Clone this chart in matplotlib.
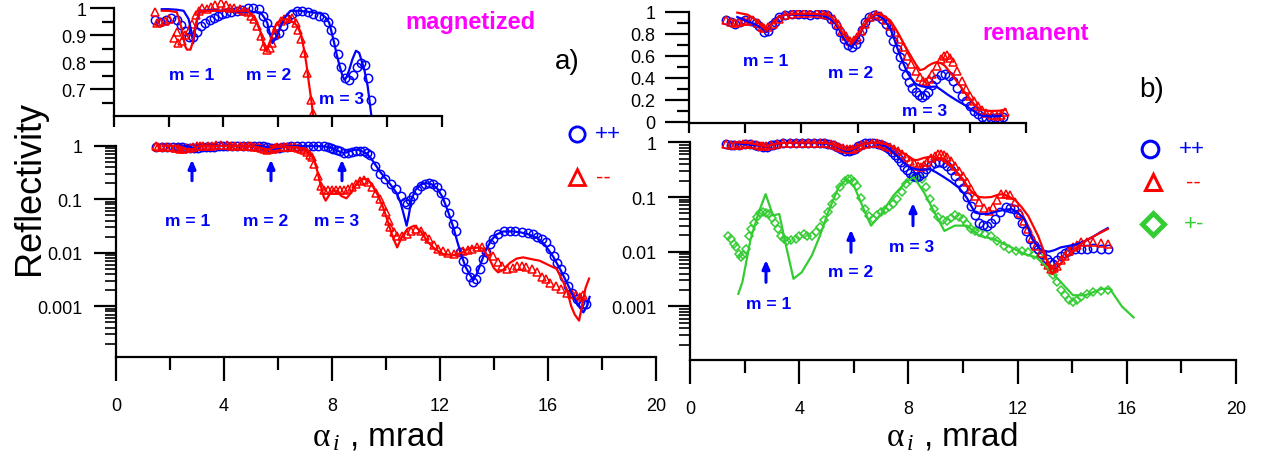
import numpy as np
import matplotlib
matplotlib.use("Agg")
import matplotlib.pyplot as plt
from matplotlib.ticker import FixedLocator, NullFormatter, LogLocator

plt.rcParams['font.family'] = ['Liberation Sans', 'DejaVu Sans']
plt.rcParams['mathtext.fontset'] = 'custom'
plt.rcParams['mathtext.rm'] = 'Liberation Serif'
plt.rcParams['mathtext.it'] = 'Liberation Serif:italic'

BLUE = '#0000ff'
RED = '#ff0000'
GREEN = '#33cc33'
MAGENTA = '#ff00ff'

# ---------------- panel a) magnetized ----------------
a_pp_x = [1.5, 1.7, 1.9, 2.1, 2.3, 2.45, 2.6, 2.75, 2.9, 3.05, 3.2, 3.35, 3.5, 3.65, 3.8, 3.95,
          4.1, 4.3, 4.5, 4.7, 4.9, 5.1, 5.3, 5.45, 5.6, 5.75, 5.9, 6.05, 6.2, 6.35, 6.5, 6.7,
          6.9, 7.1, 7.3, 7.5, 7.7, 7.85, 7.95, 8.05, 8.2, 8.3, 8.45, 8.6, 8.75, 8.9, 9.05, 9.2,
          9.3, 9.4, 9.58, 9.8, 9.97, 10.2, 10.37, 10.55, 10.7, 10.8, 10.9, 11.0, 11.15, 11.3,
          11.45, 11.6, 11.75, 11.9, 12.05, 12.2, 12.35, 12.5, 12.6, 12.75, 12.85, 12.97, 13.1,
          13.23, 13.35, 13.49, 13.6, 13.7, 13.85, 13.97, 14.15, 14.37, 14.6, 14.8, 15.03, 15.25,
          15.45, 15.6, 15.8, 15.94, 16.1, 16.22, 16.35, 16.48, 16.6, 16.75, 16.9, 17.08, 17.2,
          17.3, 17.4]
a_pp_y = [0.956, 0.949, 0.957, 0.963, 0.955, 0.938, 0.915, 0.893, 0.892, 0.91, 0.932, 0.946,
          0.955, 0.965, 0.972, 0.978, 0.982, 0.985, 0.988, 0.994, 0.999, 1.0, 0.998, 0.97,
          0.946, 0.92, 0.90, 0.908, 0.932, 0.96, 0.978, 0.988, 0.99, 0.984, 0.978, 0.972, 0.968,
          0.95, 0.92, 0.875, 0.83, 0.78, 0.74, 0.733, 0.752, 0.78, 0.795, 0.79, 0.74, 0.66,
          0.42, 0.30, 0.24, 0.19, 0.155, 0.115, 0.09, 0.081, 0.095, 0.117, 0.15, 0.18, 0.195,
          0.2, 0.19, 0.17, 0.13, 0.09, 0.055, 0.035, 0.025, 0.0102, 0.007, 0.005, 0.0035,
          0.0028, 0.0033, 0.005, 0.0075, 0.0102, 0.0145, 0.018, 0.022, 0.025, 0.025, 0.025,
          0.024, 0.023, 0.022, 0.02, 0.018, 0.0156, 0.012, 0.0088, 0.0065, 0.005, 0.0035,
          0.0024, 0.0018, 0.00135, 0.0012, 0.0011, 0.0011]

a_mm_x = [1.5, 1.57, 1.7, 1.85, 2.0, 2.2, 2.3, 2.36, 2.5, 2.6, 2.73, 2.86, 3.0, 3.1, 3.22,
          3.4, 3.55, 3.7, 3.9, 4.1, 4.25, 4.4, 4.6, 4.75, 4.9, 5.0, 5.12, 5.25, 5.37, 5.49,
          5.61, 5.7, 5.8, 5.9, 5.98, 6.1, 6.22, 6.35, 6.5, 6.65, 6.75, 6.84, 6.96, 7.08, 7.2,
          7.27, 7.35, 7.48, 7.6, 7.7, 7.85, 8.0, 8.15, 8.3, 8.45, 8.6, 8.75, 8.9, 9.05, 9.19,
          9.35, 9.5, 9.65, 9.8, 9.9, 10.0, 10.1, 10.17, 10.3, 10.43, 10.6, 10.78, 10.95, 11.12,
          11.3, 11.45, 11.59, 11.8, 11.95, 12.12, 12.3, 12.51, 12.7, 12.85, 13.04, 13.2, 13.37,
          13.57, 13.75, 13.97, 14.15, 14.3, 14.5, 14.7, 14.85, 15.03, 15.2, 15.43, 15.6, 15.8,
          15.93, 16.1, 16.3, 16.48, 16.7, 16.88, 17.05, 17.2, 17.3]
a_mm_y = [0.984, 0.944, 0.948, 0.952, 0.958, 0.89, 0.91, 0.872, 0.878, 0.9, 0.915, 0.94,
          0.975, 0.99, 1.0, 0.998, 1.005, 1.01, 1.02, 1.01, 1.0, 1.0, 0.995, 0.99, 0.984, 0.97,
          0.959, 0.934, 0.896, 0.859, 0.846, 0.852, 0.872, 0.905, 0.934, 0.952, 0.959, 0.965,
          0.963, 0.946, 0.92, 0.884, 0.834, 0.759, 0.66, 0.61, 0.45, 0.27, 0.18, 0.152, 0.148,
          0.15, 0.152, 0.15, 0.148, 0.155, 0.17, 0.195, 0.215, 0.23, 0.21, 0.17, 0.13, 0.1,
          0.075, 0.057, 0.04, 0.03, 0.024, 0.021, 0.021, 0.022, 0.026, 0.028, 0.025, 0.021,
          0.018, 0.014, 0.012, 0.011, 0.01, 0.0095, 0.0105, 0.011, 0.0114, 0.012, 0.0126,
          0.0126, 0.011, 0.0088, 0.0068, 0.0057, 0.005, 0.0053, 0.0056, 0.0057, 0.0055, 0.005,
          0.0043, 0.0036, 0.0032, 0.0027, 0.0024, 0.0021, 0.0018, 0.0017, 0.0016, 0.0015, 0.0016]

a_pp_fit_x = [1.75, 2.0, 2.3, 2.55, 2.73, 2.82, 2.9, 2.97, 3.05, 3.16, 3.5, 4.0, 4.5, 5.0, 5.37,
              5.5, 5.61, 5.72, 5.8, 5.9, 5.98, 6.1, 6.22, 6.35, 6.47, 6.8, 7.2, 7.57, 7.75, 7.88,
              7.97, 8.06, 8.15, 8.25, 8.35, 8.43, 8.52, 8.61, 8.73, 8.86, 8.98, 9.08, 9.17, 9.29,
              9.45, 9.6, 9.8, 10.0, 10.2, 10.4, 10.55, 10.65, 10.77, 10.85, 10.95, 11.1, 11.3,
              11.5, 11.7, 11.9, 12.1, 12.3, 12.5, 12.65, 12.8, 12.95, 13.1, 13.23, 13.35, 13.5,
              13.7, 13.9, 14.1, 14.35, 14.7, 15.0, 15.3, 15.6, 15.9, 16.2, 16.5, 16.75, 16.95,
              17.15, 17.32, 17.45, 17.55]
a_pp_fit_y = [0.996, 0.996, 0.994, 0.99, 0.96, 0.92, 0.87, 0.92, 0.96, 0.99, 0.992, 0.99, 0.988,
              0.986, 0.984, 0.965, 0.946, 0.9, 0.87, 0.885, 0.9, 0.93, 0.96, 0.978, 0.99, 0.99,
              0.985, 0.98, 0.965, 0.946, 0.91, 0.872, 0.83, 0.79, 0.755, 0.734, 0.745, 0.77, 0.81,
              0.842, 0.834, 0.80, 0.77, 0.71, 0.58, 0.45, 0.32, 0.24, 0.18, 0.13, 0.085, 0.055,
              0.032, 0.05, 0.1, 0.15, 0.19, 0.2, 0.19, 0.16, 0.11, 0.06, 0.03, 0.016, 0.009,
              0.0055, 0.004, 0.0032, 0.0038, 0.006, 0.011, 0.017, 0.022, 0.025, 0.025, 0.024,
              0.022, 0.019, 0.014, 0.0085, 0.0045, 0.0025, 0.0015, 0.001, 0.00077, 0.001, 0.0015]

a_mm_fit_x = [1.75, 2.0, 2.3, 2.49, 2.6, 2.67, 2.8, 2.9, 3.04, 3.16, 3.6, 4.2, 4.88, 5.12, 5.25,
              5.37, 5.47, 5.55, 5.65, 5.74, 5.85, 5.98, 6.15, 6.35, 6.55, 6.72, 6.85, 6.96, 7.05,
              7.14, 7.25, 7.33, 7.45, 7.6, 7.7, 7.77, 7.9, 8.05, 8.2, 8.35, 8.54, 8.7, 8.9, 9.1,
              9.25, 9.45, 9.7, 9.9, 10.1, 10.25, 10.42, 10.6, 10.8, 11.05, 11.3, 11.55, 11.8,
              12.1, 12.51, 12.8, 13.1, 13.4, 13.6, 13.85, 14.0, 14.16, 14.35, 14.6, 14.85, 15.09,
              15.4, 15.7, 16.0, 16.33, 16.55, 16.7, 16.87, 17.0, 17.16, 17.3, 17.4, 17.53]
a_mm_fit_y = [0.99, 0.99, 0.985, 0.92, 0.86, 0.846, 0.846, 0.88, 0.959, 0.99, 0.99, 0.99, 0.99,
              0.97, 0.94, 0.91, 0.87, 0.846, 0.86, 0.884, 0.92, 0.946, 0.957, 0.959, 0.948,
              0.934, 0.9, 0.846, 0.79, 0.72, 0.64, 0.56, 0.35, 0.17, 0.11, 0.094, 0.12, 0.15,
              0.14, 0.115, 0.104, 0.13, 0.19, 0.235, 0.24, 0.2, 0.12, 0.07, 0.035, 0.02, 0.0126,
              0.02, 0.028, 0.032, 0.025, 0.016, 0.012, 0.0095, 0.009, 0.01, 0.012, 0.0125, 0.012,
              0.0075, 0.0052, 0.0043, 0.0048, 0.0065, 0.0078, 0.0082, 0.0076, 0.0071, 0.006,
              0.005, 0.003, 0.0021, 0.001, 0.0007, 0.00054, 0.0012, 0.0022, 0.0033]

# ---------------- panel b) remanent ----------------
b_pp_x = [1.33, 1.5, 1.63, 1.8, 2.0, 2.2, 2.37, 2.5, 2.67, 2.83, 2.95, 3.05, 3.2, 3.42, 3.65,
          3.87, 4.1, 4.32, 4.55, 4.77, 4.92, 5.07, 5.22, 5.37, 5.52, 5.67, 5.82, 5.93, 6.04,
          6.15, 6.27, 6.42, 6.57, 6.72, 6.87, 7.02, 7.17, 7.28, 7.39, 7.5, 7.62, 7.73, 7.84,
          7.95, 8.07, 8.18, 8.29, 8.4, 8.52, 8.66, 8.81, 8.96, 9.11, 9.26, 9.41, 9.56, 9.72,
          9.86, 10.01, 10.15, 10.29, 10.44, 10.59, 10.74, 10.89, 11.04, 11.19, 11.37, 11.56,
          11.71, 11.86, 12.01, 12.16, 12.31, 12.46, 12.61, 12.76, 12.91, 13.06, 13.17, 13.28,
          13.43, 13.58, 13.73, 13.88, 14.1, 14.33, 14.55, 14.78, 15.05, 15.3]
b_pp_y = [0.923, 0.905, 0.893, 0.91, 0.923, 0.915, 0.90, 0.87, 0.817, 0.83, 0.88, 0.909, 0.95,
          0.975, 0.98, 0.984, 0.98, 0.975, 0.98, 0.984, 0.97, 0.939, 0.88, 0.817, 0.755, 0.695,
          0.68, 0.71, 0.756, 0.84, 0.909, 0.955, 0.975, 0.965, 0.939, 0.89, 0.817, 0.74, 0.664,
          0.59, 0.512, 0.43, 0.36, 0.31, 0.27, 0.245, 0.229, 0.24, 0.27, 0.33, 0.39, 0.425,
          0.436, 0.415, 0.375, 0.31, 0.238, 0.19, 0.146, 0.1, 0.069, 0.047, 0.034, 0.031,
          0.030, 0.034, 0.04, 0.053, 0.065, 0.064, 0.06, 0.048, 0.034, 0.024, 0.017, 0.0135,
          0.0112, 0.009, 0.0074, 0.0065, 0.0059, 0.007, 0.0085, 0.0096, 0.0104, 0.011, 0.0112,
          0.0114, 0.0115, 0.0113, 0.0112]

b_mm_x = [1.33, 1.5, 1.65, 1.79, 1.95, 2.1, 2.28, 2.45, 2.6, 2.67, 2.8, 2.98, 3.2, 3.42, 3.65,
          3.87, 4.1, 4.32, 4.55, 4.77, 4.95, 5.15, 5.3, 5.45, 5.6, 5.75, 5.86, 5.97, 6.12, 6.27,
          6.45, 6.65, 6.85, 7.02, 7.17, 7.32, 7.47, 7.62, 7.77, 7.92, 8.07, 8.22, 8.35, 8.45,
          8.56, 8.67, 8.82, 8.97, 9.08, 9.19, 9.3, 9.41, 9.56, 9.72, 9.86, 10.01, 10.15, 10.29,
          10.44, 10.59, 10.78, 10.97, 11.1, 11.25, 11.41, 11.56, 11.71, 11.9, 12.09, 12.24,
          12.39, 12.54, 12.69, 12.84, 12.99, 13.1, 13.21, 13.32, 13.43, 13.58, 13.73, 13.88,
          14.03, 14.18, 14.33, 14.55, 14.78, 15.05, 15.3]
b_mm_y = [0.93, 0.91, 0.90, 0.905, 0.915, 0.92, 0.923, 0.9, 0.86, 0.85, 0.86, 0.893, 0.94, 0.969,
          0.98, 0.99, 0.99, 0.99, 0.99, 0.984, 0.97, 0.939, 0.89, 0.83, 0.78, 0.74, 0.745, 0.77,
          0.83, 0.893, 0.95, 0.984, 0.96, 0.923, 0.87, 0.817, 0.75, 0.68, 0.6, 0.53, 0.46, 0.41,
          0.375, 0.36, 0.39, 0.436, 0.51, 0.573, 0.6, 0.61, 0.585, 0.543, 0.46, 0.375, 0.3,
          0.238, 0.185, 0.14, 0.105, 0.08, 0.063, 0.056, 0.065, 0.09, 0.113, 0.112, 0.107, 0.08,
          0.052, 0.036, 0.026, 0.018, 0.0129, 0.0094, 0.0068, 0.0057, 0.0048, 0.005, 0.0055,
          0.007, 0.0085, 0.0103, 0.012, 0.0135, 0.0148, 0.015, 0.0148, 0.0142, 0.0138]

b_pm_x = [1.4, 1.5, 1.6, 1.7, 1.8, 1.85, 1.95, 2.05, 2.15, 2.25, 2.35, 2.45, 2.55, 2.67, 2.78,
          2.9, 3.0, 3.12, 3.22, 3.34, 3.45, 3.57, 3.7, 3.87, 4.0, 4.16, 4.3, 4.46, 4.6, 4.76, 4.9,
          5.06, 5.2, 5.36, 5.5, 5.66, 5.78, 5.88, 6.0, 6.1, 6.25, 6.41, 6.55, 6.71, 6.85, 7.0,
          7.15, 7.3, 7.45, 7.6, 7.75, 7.9, 8.05, 8.2, 8.35, 8.5, 8.65, 8.8, 8.95, 9.1, 9.25,
          9.4, 9.55, 9.7, 9.85, 10.0, 10.15, 10.29, 10.45, 10.59, 10.8, 11.04, 11.25, 11.49,
          11.7, 11.94, 12.15, 12.39, 12.6, 12.83, 13.0, 13.14, 13.28, 13.43, 13.58, 13.73,
          13.88, 14.03, 14.18, 14.33, 14.55, 14.78, 15.05, 15.3]
b_pm_y = [0.0196, 0.017, 0.014, 0.012, 0.009, 0.0079, 0.0088, 0.011, 0.0196, 0.026, 0.034,
          0.043, 0.05, 0.054, 0.052, 0.049, 0.042, 0.034, 0.026, 0.0196, 0.017, 0.016, 0.0165,
          0.017, 0.019, 0.021, 0.0195, 0.019, 0.023, 0.028, 0.038, 0.053, 0.075, 0.106, 0.15,
          0.20, 0.215, 0.213, 0.185, 0.16, 0.095, 0.06, 0.045, 0.04, 0.046, 0.053, 0.058, 0.065,
          0.075, 0.092, 0.125, 0.17, 0.205, 0.23, 0.225, 0.213, 0.15, 0.092, 0.06, 0.043, 0.038,
          0.037, 0.042, 0.046, 0.044, 0.04, 0.032, 0.026, 0.024, 0.0227, 0.021, 0.0196, 0.016,
          0.0129, 0.011, 0.0104, 0.0101, 0.0098, 0.0088, 0.0079, 0.0065, 0.0052, 0.0038, 0.0028,
          0.002, 0.0016, 0.0013, 0.0012, 0.0013, 0.0015, 0.0017, 0.0018, 0.0019, 0.002]

b_pp_fit_x = [1.72, 1.95, 2.24, 2.45, 2.61, 2.76, 2.88, 2.98, 3.15, 3.42, 4.0, 4.5, 4.77, 5.0,
              5.22, 5.37, 5.52, 5.65, 5.78, 5.9, 6.04, 6.2, 6.42, 6.57, 6.72, 6.95, 7.17, 7.32,
              7.47, 7.62, 7.77, 7.92, 8.07, 8.25, 8.45, 8.63, 8.81, 9.03, 9.26, 9.56, 9.86, 10.0,
              10.15, 10.29, 10.44, 10.65, 10.89, 11.1, 11.34, 11.56, 11.79, 12.0, 12.24, 12.4,
              12.54, 12.69, 12.83, 12.98, 13.14, 13.35, 13.58, 13.88, 14.18, 14.5, 14.78, 15.05,
              15.3]
b_pp_fit_y = [0.954, 0.93, 0.90, 0.875, 0.85, 0.817, 0.86, 0.909, 0.95, 0.975, 0.975, 0.972,
              0.969, 0.94, 0.893, 0.83, 0.756, 0.705, 0.68, 0.715, 0.77, 0.86, 0.939, 0.965,
              0.975, 0.93, 0.85, 0.745, 0.634, 0.54, 0.45, 0.39, 0.345, 0.325, 0.315, 0.318,
              0.32, 0.28, 0.238, 0.19, 0.146, 0.12, 0.095, 0.07, 0.052, 0.049, 0.049, 0.052,
              0.056, 0.059, 0.06, 0.052, 0.04, 0.026, 0.017, 0.0135, 0.0112, 0.0104, 0.01,
              0.0107, 0.012, 0.0128, 0.0138, 0.016, 0.019, 0.023, 0.027]

b_mm_fit_x = [1.72, 1.9, 2.09, 2.25, 2.39, 2.55, 2.76, 2.9, 3.05, 3.2, 3.42, 3.9, 4.32, 4.65,
              4.92, 5.08, 5.22, 5.37, 5.52, 5.65, 5.78, 5.9, 6.04, 6.2, 6.42, 6.57, 6.72, 6.95,
              7.17, 7.4, 7.62, 7.77, 7.92, 8.07, 8.22, 8.37, 8.52, 8.66, 8.81, 8.96, 9.11, 9.33,
              9.56, 9.78, 10.01, 10.15, 10.29, 10.44, 10.59, 10.8, 11.04, 11.28, 11.49, 11.7,
              11.94, 12.15, 12.39, 12.58, 12.76, 12.91, 13.06, 13.16, 13.26, 13.38, 13.51, 13.7,
              13.88, 14.1, 14.33, 14.55, 14.78, 15.05, 15.3]
b_mm_fit_y = [0.994, 0.985, 0.975, 0.95, 0.923, 0.88, 0.83, 0.87, 0.923, 0.955, 0.975, 0.984,
              0.984, 0.98, 0.975, 0.95, 0.909, 0.85, 0.787, 0.745, 0.726, 0.745, 0.787, 0.86,
              0.939, 0.97, 0.984, 0.96, 0.923, 0.83, 0.726, 0.655, 0.59, 0.525, 0.47, 0.48, 0.51,
              0.53, 0.543, 0.535, 0.51, 0.44, 0.36, 0.28, 0.208, 0.16, 0.13, 0.11, 0.1, 0.098,
              0.1, 0.11, 0.113, 0.1, 0.085, 0.065, 0.045, 0.029, 0.019, 0.012, 0.0074, 0.0052,
              0.0039, 0.0045, 0.0055, 0.0072, 0.0089, 0.011, 0.014, 0.0165, 0.019, 0.0225, 0.026]

b_pm_fit_x = [1.77, 1.92, 2.22, 2.52, 2.77, 3.04, 3.27, 3.49, 3.79, 4.09, 4.46, 4.76, 5.06,
              5.44, 5.73, 6.03, 6.41, 6.63, 7.0, 7.45, 7.9, 8.2, 8.57, 8.95, 9.32, 9.7, 10.14,
              10.59, 11.12, 11.64, 12.24, 12.69, 13.14, 13.58, 14.03, 14.48, 15.08, 15.38, 15.82,
              16.25]
b_pm_fit_y = [0.0017, 0.0028, 0.017, 0.053, 0.113, 0.046, 0.049, 0.0148, 0.0032, 0.0042,
              0.0085, 0.0196, 0.053, 0.15, 0.213, 0.15, 0.053, 0.030, 0.049, 0.106, 0.186, 0.23,
              0.122, 0.053, 0.024, 0.030, 0.030, 0.0196, 0.017, 0.0129, 0.0091, 0.0079, 0.0048,
              0.0028, 0.0016, 0.0016, 0.0021, 0.0021, 0.001, 0.00063]

b_inset_xmax = 11.3  # the inset of panel b) shows data only up to here

x_ticks = [0, 4, 8, 12, 16, 20]
x_minor = [2, 6, 10, 14, 18]
log_ticks = [1, 0.1, 0.01, 0.001]
log_labels = ['1', '0.1', '0.01', '0.001']

W, H = 1271, 460
fig = plt.figure(figsize=(W / 100, H / 100), dpi=100)


def px_axes(left, top, right, bottom):
    return fig.add_axes([left / W, 1 - bottom / H, (right - left) / W, (bottom - top) / H])


def style_axes(ax):
    for s in ['top', 'right']:
        ax.spines[s].set_visible(False)
    for s in ['left', 'bottom']:
        ax.spines[s].set_linewidth(1.6)
    ax.set_facecolor('none')


def main_axes(left, top, right, bottom, ymin):
    ax = px_axes(left, top, right, bottom)
    style_axes(ax)
    ax.set_xlim(0, 20)
    ax.set_yscale('log')
    ax.set_ylim(ymin, 1)
    ax.xaxis.set_major_locator(FixedLocator(x_ticks))
    ax.xaxis.set_minor_locator(FixedLocator(x_minor))
    ax.set_xticklabels([str(t) for t in x_ticks])
    ax.yaxis.set_major_locator(FixedLocator(log_ticks))
    ax.set_yticklabels(log_labels)
    ax.yaxis.set_minor_locator(LogLocator(base=10, subs=np.arange(2, 10)))
    ax.yaxis.set_minor_formatter(NullFormatter())
    ax.tick_params(axis='x', which='major', length=17, width=1.6, pad=12, labelsize=13)
    ax.tick_params(axis='x', which='minor', length=9, width=1.6)
    ax.tick_params(axis='y', which='major', length=16, width=1.6, pad=8, labelsize=13)
    ax.tick_params(axis='y', which='minor', length=8, width=1.2)
    return ax


def marks(ax, x, y, marker, color, ms, **kw):
    ax.plot(x, y, linestyle='none', marker=marker, mfc='none', mec=color, ms=ms, mew=1.1, **kw)


def fit(ax, x, y, color, **kw):
    ax.plot(x, y, '-', color=color, lw=1.6, **kw)


# ---- a) main
axa = main_axes(116, 146.7, 655.7, 358, 1.13e-4)
marks(axa, a_pp_x, a_pp_y, 'o', BLUE, 6, clip_on=False)
marks(axa, a_mm_x, a_mm_y, '^', RED, 6, clip_on=False)
fit(axa, a_pp_fit_x, a_pp_fit_y, BLUE, clip_on=False)
fit(axa, a_mm_fit_x, a_mm_fit_y, RED, clip_on=False)

# ---- a) inset (linear)
axai = px_axes(114, 1, 441.7, 117)
style_axes(axai)
axai.set_xlim(0, 12)
axai.set_ylim(0.6, 1.03)
axai.spines['left'].set_bounds(0.6, 1.0)
axai.xaxis.set_major_locator(FixedLocator(range(0, 13, 2)))
axai.set_xticklabels([])
axai.yaxis.set_major_locator(FixedLocator([0.7, 0.8, 0.9, 1.0]))
axai.set_yticklabels(['0.7', '0.8', '0.9', '1'])
axai.yaxis.set_minor_locator(FixedLocator([0.65, 0.75, 0.85, 0.95]))
axai.tick_params(axis='x', which='major', length=8, width=1.6)
axai.tick_params(axis='y', which='major', length=17, width=1.6, pad=3, labelsize=13)
axai.tick_params(axis='y', which='minor', length=8.5, width=1.6)
marks(axai, a_pp_x, a_pp_y, 'o', BLUE, 6)
marks(axai, a_mm_x, a_mm_y, '^', RED, 6)
fit(axai, a_pp_fit_x, a_pp_fit_y, BLUE)
fit(axai, a_mm_fit_x, a_mm_fit_y, RED)

# ---- b) main
axb = main_axes(690, 143.3, 1236, 361, 1.05e-4)
marks(axb, b_pm_x, b_pm_y, 'D', GREEN, 4.2, clip_on=False)
marks(axb, b_pp_x, b_pp_y, 'o', BLUE, 6, clip_on=False)
marks(axb, b_mm_x, b_mm_y, '^', RED, 6, clip_on=False)
fit(axb, b_pm_fit_x, b_pm_fit_y, GREEN, clip_on=False)
fit(axb, b_pp_fit_x, b_pp_fit_y, BLUE, clip_on=False)
fit(axb, b_mm_fit_x, b_mm_fit_y, RED, clip_on=False)

# ---- b) inset (linear)
axbi = px_axes(689, 10.8, 1026, 124)
style_axes(axbi)
axbi.set_xlim(0, 12)
axbi.set_ylim(-0.012, 1.02)
axbi.spines['left'].set_bounds(-0.012, 1.0)
axbi.xaxis.set_major_locator(FixedLocator(range(0, 13, 2)))
axbi.set_xticklabels([])
axbi.yaxis.set_major_locator(FixedLocator([0, 0.2, 0.4, 0.6, 0.8, 1.0]))
axbi.set_yticklabels(['0', '0.2', '0.4', '0.6', '0.8', '1'])
axbi.yaxis.set_minor_locator(FixedLocator([0.1, 0.3, 0.5, 0.7, 0.9]))
axbi.tick_params(axis='x', which='major', length=7.5, width=1.6)
axbi.tick_params(axis='y', which='major', length=17, width=1.6, pad=7, labelsize=13)
axbi.tick_params(axis='y', which='minor', length=8.5, width=1.6)


def upto(x, y, xmax):
    x = np.asarray(x)
    y = np.asarray(y)
    keep = x <= xmax
    return x[keep], y[keep]


marks(axbi, *upto(b_pp_x, b_pp_y, b_inset_xmax), 'o', BLUE, 6)
marks(axbi, *upto(b_mm_x, b_mm_y, b_inset_xmax), '^', RED, 6)
fit(axbi, *upto(b_pp_fit_x, b_pp_fit_y, b_inset_xmax), BLUE)
fit(axbi, *upto(b_mm_fit_x, b_mm_fit_y, b_inset_xmax), RED)

# ---- overlay in figure pixels for labels, legends and arrows
ov = fig.add_axes([0, 0, 1, 1])
ov.set_xlim(0, W)
ov.set_ylim(H, 0)
ov.axis('off')
ov.patch.set_alpha(0)

ov.text(30, 188, 'Reflectivity', rotation=90, fontsize=26, ha='center', va='center')
xlab = r'$\mathrm{\alpha}_{\,\mathit{i}}$ , mrad'
ov.text(378, 437, xlab, fontsize=24, ha='center', va='center')
ov.text(952, 437, xlab, fontsize=24, ha='center', va='center')

ov.text(470, 22, 'magnetized', color=MAGENTA, fontsize=17, fontweight='bold', ha='center', va='center')
ov.text(1036, 34, 'remanent', color=MAGENTA, fontsize=17, fontweight='bold', ha='center', va='center')
ov.text(567, 62, 'a)', fontsize=20, ha='center', va='center')
ov.text(1152, 90, 'b)', fontsize=20, ha='center', va='center')

mlab = dict(color=BLUE, fontsize=12.5, fontweight='bold', ha='center', va='center')
for (tx, ty, s) in [(192, 75, 'm = 1'), (269, 75, 'm = 2'), (342, 100, 'm = 3'),
                    (188, 222, 'm = 1'), (266, 222, 'm = 2'), (337, 222, 'm = 3'),
                    (766, 61, 'm = 1'), (851, 73, 'm = 2'), (925, 111, 'm = 3'),
                    (769, 305, 'm = 1'), (851, 273, 'm = 2'), (912, 248, 'm = 3')]:
    ov.text(tx, ty, s, **mlab)

arrow = dict(arrowstyle='-|>,head_length=0.5,head_width=0.22', color=BLUE, lw=2.2,
             shrinkA=0, shrinkB=0)
for (ax_, y0, y1) in [(192, 181.7, 160.7), (271, 181.7, 160.7), (342, 181.7, 160.7),
                      (766, 283.3, 261), (851, 253.3, 230.7), (913, 226.7, 204)]:
    ov.annotate('', xy=(ax_, y1), xytext=(ax_, y0), arrowprops=arrow)

# legends
leg = [(577, 135, 'o', BLUE, '++', 608, 11, 2.0),
       (577, 178, '^', RED, '--', 603, 11, 2.0),
       (1150, 150, 'o', BLUE, '++', 1192, 12, 2.2),
       (1153, 183, '^', RED, '--', 1193, 12, 2.2),
       (1153, 225, 'D', GREEN, '+-', 1194, 11, 3.5)]
for (mx, my, mk, c, lab, lx, ms, mew) in leg:
    ov.plot([mx], [my], marker=mk, mfc='none', mec=c, ms=ms, mew=mew, clip_on=False)
    ov.text(lx, my, lab, color=c, fontsize=16, ha='center', va='center')

fig.savefig('out.png', dpi=100)
